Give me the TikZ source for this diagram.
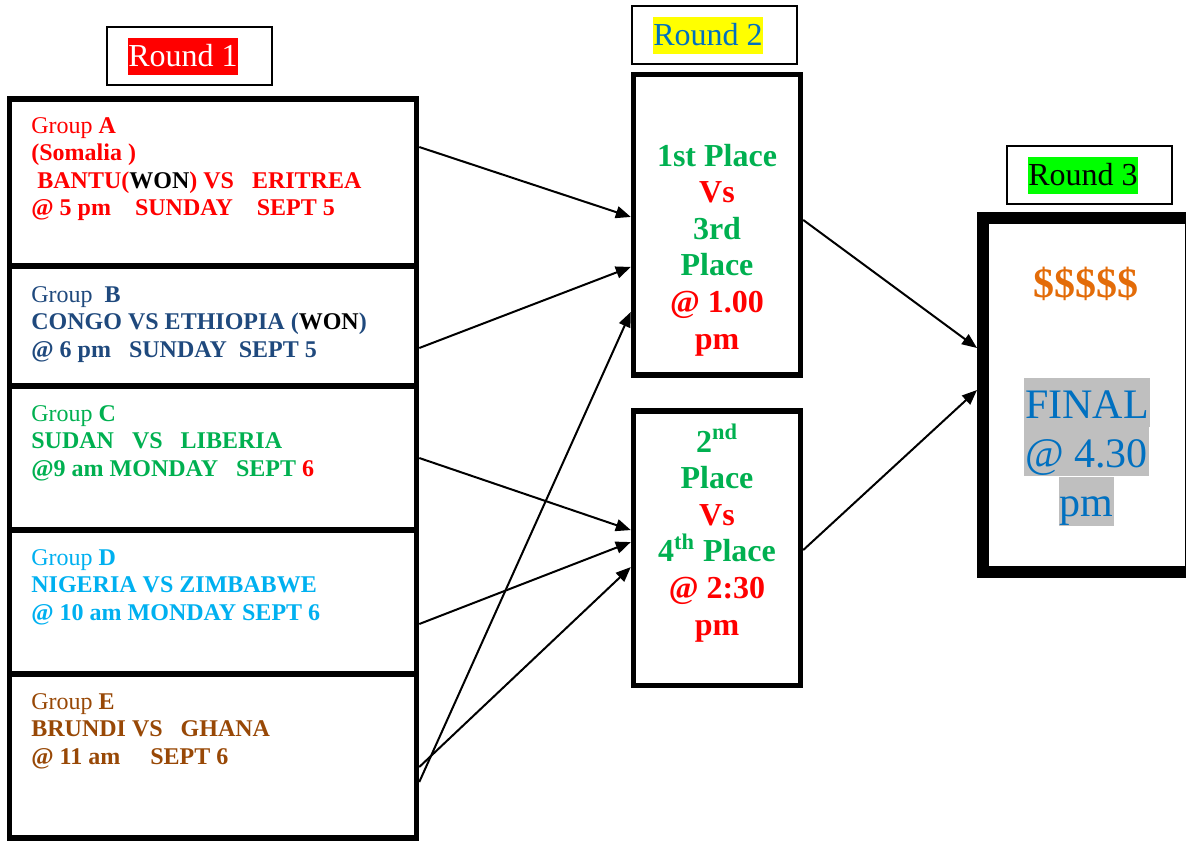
\documentclass[tikz,border=0pt]{standalone}
\usepackage{fontspec}
\setmainfont{Liberation Serif}
\usetikzlibrary{arrows.meta}
\definecolor{cRed}{HTML}{FF0000}
\definecolor{cNavy}{HTML}{1F497D}
\definecolor{cGreen}{HTML}{00B050}
\definecolor{cCyan}{HTML}{00B0F0}
\definecolor{cBrown}{HTML}{984806}
\definecolor{cBlue}{HTML}{0070C0}
\definecolor{cOrange}{HTML}{E36C09}
\definecolor{cGray}{HTML}{BFBFBF}
\definecolor{cLime}{HTML}{00FF00}
\definecolor{cYellow}{HTML}{FFFF00}
\begin{document}
\begin{tikzpicture}[x=0.5pt,y=-0.5pt,
  grp/.style={draw=black, line width=2.75pt, minimum width=203.5pt, inner sep=0pt},
  r2box/.style={draw=black, line width=2.7pt, minimum width=83.5pt, inner sep=0pt},
  r3box/.style={draw=black, line width=6pt, minimum width=104pt, minimum height=177pt, inner sep=0pt},
  lblbox/.style={draw=black, line width=1pt, minimum width=82.5pt, minimum height=29pt, inner sep=0pt},
  hl/.style={inner xsep=0pt, inner ysep=0pt, text height=14.3pt, text depth=4.2pt, font=\fontsize{16}{18.4}\selectfont},
  grptxt/.style={anchor=base west, inner sep=0pt, text width=190pt, align=flush left, font=\fontsize{12}{13.75}\selectfont},
  r2txt/.style={anchor=base, inner sep=0pt, text width=82pt, align=flush center, font=\bfseries\fontsize{16}{18.3}\selectfont},
  fin/.style={fill=cGray, text=cBlue, inner xsep=0.5pt, inner ysep=0pt, text height=20pt, text depth=4.5pt, font=\fontsize{21}{24.2}\selectfont},
  arr/.style={draw=black, line width=1pt, -{Triangle[length=7.5pt,width=6pt]}}
]
\useasboundingbox (0,0) rectangle (1186,841);

% Round labels
\node[lblbox] (l1) at (189.5,56) {};
\node[hl, fill=cRed, text=white] (h1) at (183,56.5) {Round 1};
\node[lblbox] (l2) at (714.5,35) {};
\node[hl, fill=cYellow, text=cBlue] (h2) at (708,35) {Round 2};
\node[lblbox] (l3) at (1089.5,175) {};
\node[hl, fill=cLime, text=black] (h3) at (1083,175.5) {Round 3};

% Round 1 group boxes
\node[grp, minimum height=83.5pt] (gA) at (213,182.5) {};
\node[grp, minimum height=60pt] (gB) at (213,326) {};
\node[grp, minimum height=72pt] (gC) at (213,458) {};
\node[grp, minimum height=72pt] (gD) at (213,602) {};
\node[grp, minimum height=82pt] (gE) at (213,756) {};

\node[grptxt, text=cRed] (tA) at (31,133) {Group \textbf{A}\\
  \textbf{(Somalia )}\\
  \textbf{\hspace*{3pt}BANTU({\color{black}WON}) VS\ \ \ ERITREA}\\
  \textbf{@ 5 pm\ \ \ \ SUNDAY\ \ \ \ SEPT 5}};
\node[grptxt, text=cNavy] (tB) at (31,302) {Group\ \ \textbf{B}\\
  \textbf{CONGO VS ETHIOPIA ({\color{black}WON})}\\
  \textbf{@ 6 pm\ \ \ SUNDAY\ \ SEPT 5}};
\node[grptxt, text=cGreen] (tC) at (31,421) {Group \textbf{C}\\
  \textbf{SUDAN\ \ \ VS\ \ \ LIBERIA}\\
  \textbf{@9 am MONDAY\ \ \ SEPT {\color{cRed}6}}};
\node[grptxt, text=cCyan] (tD) at (31,565) {Group \textbf{D}\\
  \textbf{NIGERIA VS ZIMBABWE}\\
  \textbf{@ 10 am MONDAY SEPT 6}};
\node[grptxt, text=cBrown] (tE) at (31,709) {Group \textbf{E}\\
  \textbf{BRUNDI VS\ \ \ GHANA}\\
  \textbf{@ 11 am\ \ \ \ \ SEPT 6}};

% Round 2 boxes
\node[r2box, minimum height=150.25pt] (rA) at (717,224.75) {};
\node[r2box, minimum height=137.25pt] (rB) at (717,548.25) {};
\node[r2txt, text=cGreen] (tRA) at (717,166) {1st Place\\
  {\color{cRed}Vs}\\
  3rd\\
  Place\\
  {\color{cRed}@ 1.00}\\
  {\color{cRed}pm}};
\node[r2txt, text=cGreen] (tRB) at (717,452) {2\textsuperscript{nd}\\
  Place\\
  {\color{cRed}Vs}\\
  4\textsuperscript{th} Place\\
  {\color{cRed}@ 2:30}\\
  {\color{cRed}pm}};

% Round 3 box
\node[r3box] (fin) at (1087,395) {};
\node[anchor=base, inner sep=0pt, text=cOrange, font=\bfseries\fontsize{21}{24.2}\selectfont] (money) at (1085.5,297) {\$\$\$\$\$};
\node[fin] (f1) at (1087,402.5) {FINAL};
\node[fin] (f2) at (1086.5,451.5) {@ 4.30};
\node[fin] (f3) at (1086.5,501) {pm};

% Connectors
\draw[arr] ([yshift=17.75pt]gA.east) -- ([yshift=3.9pt]rA.west);
\draw[arr] ([yshift=-11pt]gB.east) -- ([yshift=-21.1pt]rA.west);
\draw[arr] ([yshift=-13pt]gE.east) -- ([yshift=-43.6pt]rA.west);
\draw[arr] (gC.east) -- ([yshift=9.1pt]rB.west);
\draw[arr] ([yshift=-11pt]gD.east) -- ([yshift=3.1pt]rB.west);
\draw[arr] ([yshift=-5.5pt]gE.east) -- ([yshift=-9.4pt]rB.west);
\draw[arr] ([yshift=2.4pt]rA.east) -- ([yshift=23.5pt]fin.west);
\draw[arr] ([yshift=-0.9pt]rB.east) -- ([yshift=2.5pt]fin.west);
\end{tikzpicture}
\end{document}
